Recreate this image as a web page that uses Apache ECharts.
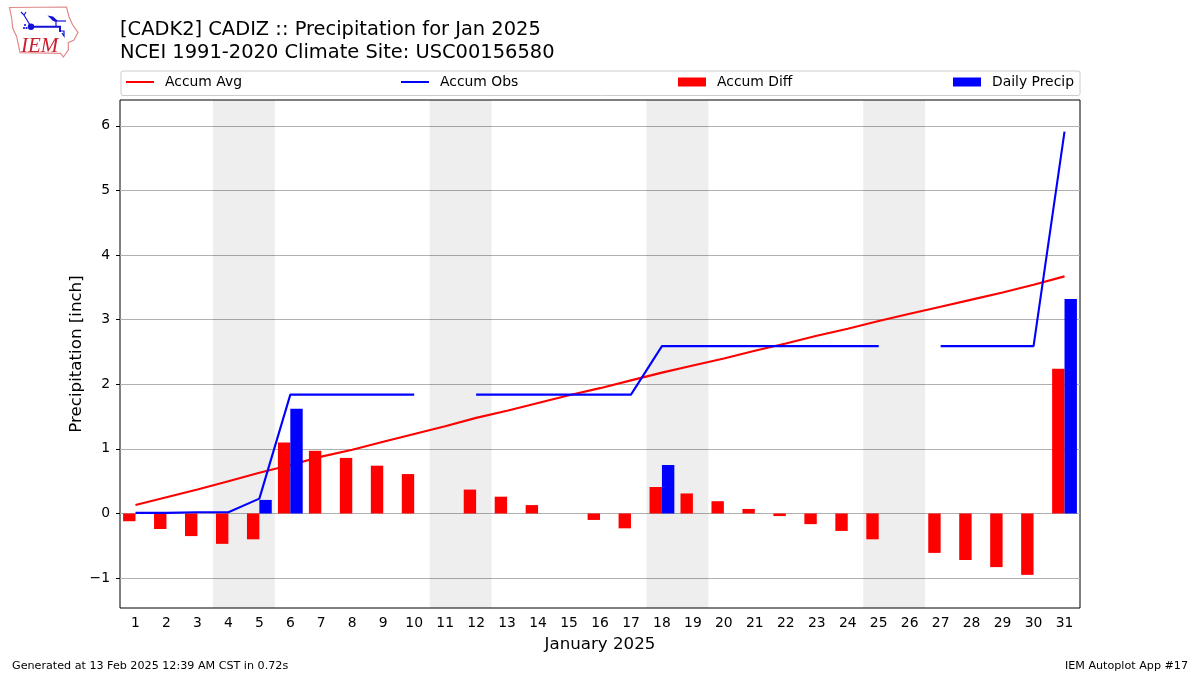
<!DOCTYPE html>
<html><head><meta charset="utf-8"><style>html,body{margin:0;background:#fff}#c{width:1200px;height:675px}</style>
<script src="https://cdn.jsdelivr.net/npm/echarts@6/dist/echarts.min.js"></script></head>
<body><div id="c"></div>
<script>
const days = ['1','2','3','4','5','6','7','8','9','10','11','12','13','14','15','16','17','18','19','20','21','22','23','24','25','26','27','28','29','30','31'];
const accumAvg = [0.13,0.25,0.37,0.50,0.63,0.75,0.88,0.985,1.11,1.23,1.35,1.48,1.59,1.71,1.83,1.94,2.06,2.18,2.29,2.40,2.52,2.63,2.75,2.86,2.98,3.09,3.20,3.31,3.42,3.54,3.67];
const accumObs = [0.01,0.01,0.02,0.02,0.23,1.84,1.84,1.84,1.84,1.84,null,1.84,1.84,1.84,1.84,1.84,1.84,2.59,2.59,2.59,2.59,2.59,2.59,2.59,2.59,null,2.59,2.59,2.59,2.59,5.91];
const accumDiff = [-0.12,-0.24,-0.35,-0.47,-0.40,1.10,0.97,0.86,0.74,0.61,null,0.37,0.26,0.13,null,-0.10,-0.23,0.41,0.31,0.19,0.07,-0.04,-0.165,-0.27,-0.40,null,-0.61,-0.72,-0.83,-0.95,2.24];
const dailyPrecip = [null,null,null,null,0.21,1.62,null,null,null,null,null,null,null,null,null,null,null,0.75,null,null,null,null,null,null,null,null,null,null,null,null,3.32];
const weekends = [[3.5,5.5],[10.5,12.5],[17.5,19.5],[24.5,26.5]];
const yTicks = [-1,0,1,2,3,4,5,6];
const titleText = '[CADK2] CADIZ :: Precipitation for Jan 2025\nNCEI 1991-2020 Climate Site: USC00156580';
const font = 'DejaVu Sans';
const chart = echarts.init(document.getElementById('c'), null, {renderer:'canvas'});
function leg(name,left,h){return {show:true,data:[{name:name,icon:'rect'}],left:left,top:75,itemWidth:28,itemHeight:h,itemGap:0,padding:0,
  textStyle:{fontFamily:font,fontSize:13.9,color:'#000',padding:[0,0,0,6]},selectedMode:false};}
const logoBlue = '#1212d8';
chart.setOption({
  animation:false,
  backgroundColor:'#fff',
  title:[
    {text:titleText,left:120,top:19,padding:0,textStyle:{fontFamily:font,fontSize:19.45,fontWeight:'normal',color:'#000',lineHeight:22.5}},
    {text:'Generated at 13 Feb 2025 12:39 AM CST in 0.72s',left:12,top:661,padding:0,textStyle:{fontFamily:font,fontSize:11.15,fontWeight:'normal',color:'#000'}},
    {text:'IEM Autoplot App #17',right:12,top:661,padding:0,textStyle:{fontFamily:font,fontSize:11.15,fontWeight:'normal',color:'#000'}}
  ],
  legend:[leg('Accum Avg',126,2),leg('Accum Obs',401,2),leg('Accum Diff',678,9),leg('Daily Precip',953,9)],
  grid:{left:120,top:100,width:960,height:508,show:true,borderColor:'#000',borderWidth:1,backgroundColor:'transparent',containLabel:false},
  xAxis:[
    {type:'category',data:days,boundaryGap:true,name:'January 2025',nameLocation:'middle',nameGap:28,
     nameTextStyle:{fontFamily:font,fontSize:16.67,color:'#000'},
     axisLine:{show:false,onZero:false},
     axisTick:{alignWithLabel:true,length:4,lineStyle:{color:'#000'}},
     axisLabel:{interval:0,fontFamily:font,fontSize:13.9,color:'#000',margin:8},splitLine:{show:false}},
    {type:'value',min:0.5,max:31.5,show:false,splitLine:{show:false}}
  ],
  yAxis:{type:'value',min:-1.463,max:6.4,name:'Precipitation [inch]',nameLocation:'middle',nameGap:35,nameMoveOverlap:false,
     nameTextStyle:{fontFamily:font,fontSize:16.67,color:'#000'},
     axisLine:{show:false},
     axisTick:{show:true,length:4,lineStyle:{color:'#000'},customValues:yTicks},
     axisLabel:{fontFamily:font,fontSize:13.9,color:'#000',margin:10,customValues:yTicks,verticalAlign:'middle',lineHeight:16,formatter:v=>String(v).replace('-','\u2212')},
     splitLine:{show:true,lineStyle:{color:'#b0b0b0',width:1}}},
  series:[
    {name:'shade',type:'line',xAxisIndex:1,data:[],silent:true,z:1,
     markArea:{silent:true,itemStyle:{color:'rgba(0,0,0,0.067)'},data:weekends.map(w=>[{xAxis:w[0]},{xAxis:w[1]}])}},
    {name:'Accum Avg',type:'line',data:accumAvg,showSymbol:false,symbol:'none',z:2,lineStyle:{color:'#f00',width:2.1},itemStyle:{color:'#f00'}},
    {name:'Accum Diff',type:'bar',data:accumDiff,barWidth:12.4,barGap:0,z:3,itemStyle:{color:'#f00'}},
    {name:'Daily Precip',type:'bar',data:dailyPrecip,barWidth:12.4,barGap:0,z:3,itemStyle:{color:'#00f'}},
    {name:'Accum Obs',type:'line',data:accumObs,showSymbol:false,symbol:'none',connectNulls:false,z:4,lineStyle:{color:'#00f',width:2.1},itemStyle:{color:'#00f'}}
  ],
  graphic:[
    {type:'rect',left:120.5,top:70.5,shape:{width:959,height:24.5,r:2},style:{fill:'#fff',stroke:'#ccc',lineWidth:1},z:-1},
    {type:'group',silent:true,children:[
      {type:'polygon',shape:{points:[[9.5,7.5],[66.5,7],[69,16.7],[72.7,25],[78,32.3],[74,40],[68.3,42.7],[68.3,50],[63.3,57],[60.7,53.3],[20,52.7],[16.7,36.7],[12.7,28.3],[11.7,18.3]]},style:{fill:'#fff',stroke:'#e08a8a',lineWidth:1.2}},
      {type:'polyline',shape:{points:[[31,26.7],[60,26.7],[60,32]]},style:{fill:'none',stroke:logoBlue,lineWidth:2}},
      {type:'polyline',shape:{points:[[31,26.7],[24,15],[21,12]]},style:{fill:'none',stroke:logoBlue,lineWidth:1.2}},
      {type:'polyline',shape:{points:[[24,15],[26,12]]},style:{fill:'none',stroke:logoBlue,lineWidth:1.2}},
      {type:'circle',shape:{cx:31,cy:26.7,r:3.2},style:{fill:logoBlue}},
      {type:'polygon',shape:{points:[[47.5,15.5],[53,16.5],[58,21],[53,21]]},style:{fill:logoBlue}},
      {type:'polyline',shape:{points:[[54,21],[66,21]]},style:{fill:'none',stroke:logoBlue,lineWidth:1.2}},
      {type:'polyline',shape:{points:[[56,21],[56,27]]},style:{fill:'none',stroke:logoBlue,lineWidth:1.2}},
      {type:'polyline',shape:{points:[[59,31],[64,31],[64,36],[62,33]]},style:{fill:'none',stroke:logoBlue,lineWidth:1.2}},
      {type:'circle',shape:{cx:24,cy:28,r:1.1},style:{fill:logoBlue}},
      {type:'circle',shape:{cx:26.5,cy:28,r:1.1},style:{fill:logoBlue}},
      {type:'circle',shape:{cx:25,cy:25,r:1.1},style:{fill:logoBlue}},
      {type:'text',style:{x:21,y:35.5,text:'IEM',fill:'#cc2030',font:'italic 21px "Liberation Serif"'}}
    ]}
  ]
});
</script></body></html>
